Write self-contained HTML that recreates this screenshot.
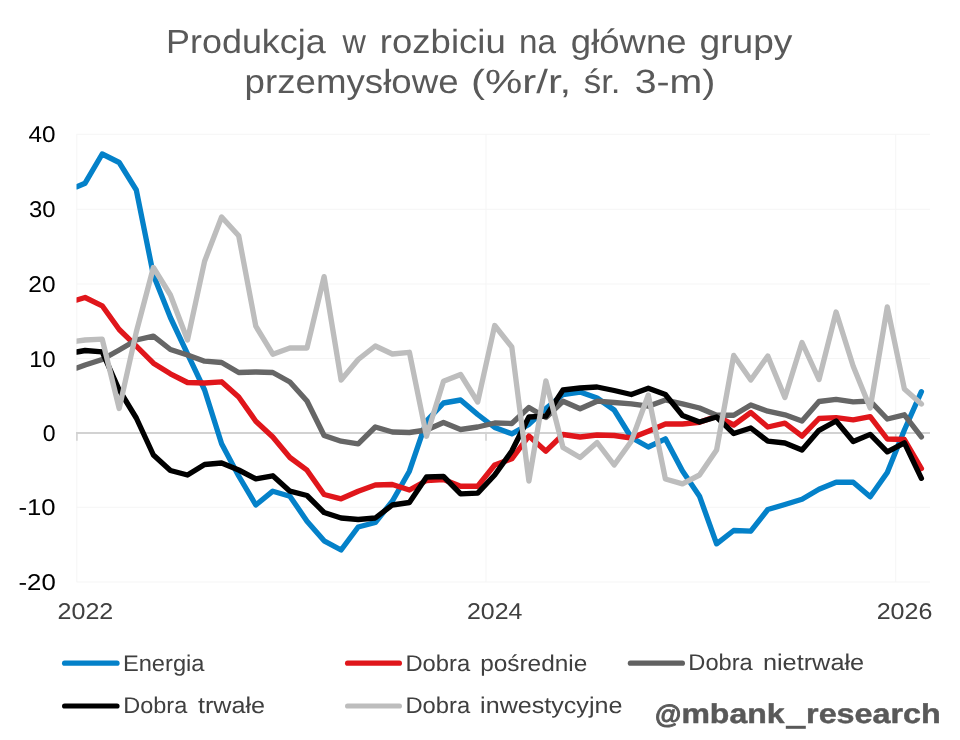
<!DOCTYPE html>
<html lang="pl"><head><meta charset="utf-8"><title>Produkcja w rozbiciu na główne grupy przemysłowe</title>
<style>html,body{margin:0;padding:0;background:#fff;}body{width:960px;height:740px;overflow:hidden;font-family:"Liberation Sans",sans-serif;}</style>
</head><body>
<svg width="960" height="740" viewBox="0 0 960 740" style="display:block;will-change:transform;text-rendering:geometricPrecision;font-family:'Liberation Sans',sans-serif">
<rect width="960" height="740" fill="#ffffff"/>
<line x1="76.5" x2="930" y1="134.25" y2="134.25" stroke="#f5f5f5" stroke-width="1"/>
<line x1="76.5" x2="930" y1="209.25" y2="209.25" stroke="#f5f5f5" stroke-width="1"/>
<line x1="76.5" x2="930" y1="284.0" y2="284.0" stroke="#f5f5f5" stroke-width="1"/>
<line x1="76.5" x2="930" y1="358.5" y2="358.5" stroke="#f5f5f5" stroke-width="1"/>
<line x1="76.5" x2="930" y1="507.25" y2="507.25" stroke="#f5f5f5" stroke-width="1"/>
<line x1="76.5" x2="930" y1="582.0" y2="582.0" stroke="#f5f5f5" stroke-width="1"/>
<line x1="76.8" x2="76.8" y1="134.25" y2="582" stroke="#f5f5f5" stroke-width="1"/>
<line x1="486.0" x2="486.0" y1="134.25" y2="582" stroke="#f5f5f5" stroke-width="1"/>
<line x1="895.7" x2="895.7" y1="134.25" y2="582" stroke="#f5f5f5" stroke-width="1"/>
<line x1="76" x2="930" y1="433" y2="433" stroke="#d2d2d2" stroke-width="1.9"/>
<line x1="76.9" x2="76.9" y1="433" y2="440.7" stroke="#d2d2d2" stroke-width="1.6"/>
<line x1="486.0" x2="486.0" y1="433" y2="440.7" stroke="#d2d2d2" stroke-width="1.6"/>
<line x1="895.7" x2="895.7" y1="433" y2="440.7" stroke="#d2d2d2" stroke-width="1.6"/>
<clipPath id="c"><rect x="76.5" y="120" width="860" height="480"/></clipPath>
<path d="M76.8,186.8 L85.1,183.2 L102.2,154.0 L119.2,162.5 L136.3,190.0 L153.4,275.0 L170.4,317.5 L187.5,353.8 L204.6,390.0 L221.6,443.8 L238.7,476.0 L255.8,505.0 L272.8,491.2 L289.9,496.2 L307.0,521.2 L324.1,540.8 L341.1,550.0 L358.2,527.0 L375.3,522.5 L392.3,501.2 L409.4,471.2 L426.5,421.2 L443.5,403.0 L460.6,400.0 L477.7,414.5 L494.7,427.5 L511.8,433.8 L528.9,424.3 L545.9,408.5 L563.0,394.5 L580.1,392.0 L597.1,398.0 L614.2,410.0 L631.3,437.5 L648.3,447.0 L665.4,438.8 L682.5,471.0 L699.5,496.2 L716.6,543.8 L733.7,530.5 L750.8,531.2 L767.8,509.5 L784.9,504.5 L802.0,499.2 L819.0,489.3 L836.1,482.2 L853.2,482.2 L870.2,496.8 L887.3,472.5 L904.4,430.0 L921.4,391.7" fill="none" stroke="#0481c9" stroke-width="5.35" stroke-linejoin="round" stroke-linecap="round" clip-path="url(#c)"/>
<path d="M76.8,300.0 L85.1,297.5 L102.2,305.8 L119.2,329.5 L136.3,346.2 L153.4,363.2 L170.4,373.8 L187.5,382.5 L204.6,383.0 L221.6,381.8 L238.7,397.0 L255.8,421.2 L272.8,437.0 L289.9,457.5 L307.0,470.2 L324.1,494.5 L341.1,498.8 L358.2,491.2 L375.3,485.0 L392.3,484.5 L409.4,490.0 L426.5,480.5 L443.5,479.5 L460.6,486.2 L477.7,486.2 L494.7,465.0 L511.8,458.8 L528.9,436.0 L545.9,451.2 L563.0,434.5 L580.1,437.0 L597.1,435.0 L614.2,435.5 L631.3,438.0 L648.3,431.2 L665.4,424.0 L682.5,424.0 L699.5,422.3 L716.6,416.2 L733.7,425.0 L750.8,412.5 L767.8,427.0 L784.9,423.2 L802.0,436.2 L819.0,418.5 L836.1,417.7 L853.2,419.8 L870.2,416.6 L887.3,439.0 L904.4,439.5 L921.4,468.5" fill="none" stroke="#e0161b" stroke-width="5.35" stroke-linejoin="round" stroke-linecap="round" clip-path="url(#c)"/>
<path d="M76.8,368.0 L85.1,365.0 L102.2,359.5 L119.2,350.0 L136.3,340.0 L153.4,336.2 L170.4,349.5 L187.5,355.0 L204.6,361.2 L221.6,362.5 L238.7,372.5 L255.8,372.0 L272.8,372.5 L289.9,382.0 L307.0,401.0 L324.1,435.5 L341.1,441.2 L358.2,443.8 L375.3,427.0 L392.3,432.0 L409.4,432.5 L426.5,430.0 L443.5,422.5 L460.6,429.5 L477.7,427.0 L494.7,423.0 L511.8,423.5 L528.9,407.5 L545.9,417.5 L563.0,401.2 L580.1,408.8 L597.1,401.2 L614.2,402.5 L631.3,403.8 L648.3,406.2 L665.4,400.0 L682.5,403.8 L699.5,408.0 L716.6,415.2 L733.7,415.2 L750.8,405.0 L767.8,411.2 L784.9,414.8 L802.0,421.0 L819.0,401.5 L836.1,399.4 L853.2,401.8 L870.2,401.0 L887.3,419.0 L904.4,414.8 L921.4,436.8" fill="none" stroke="#666666" stroke-width="5.35" stroke-linejoin="round" stroke-linecap="round" clip-path="url(#c)"/>
<path d="M76.8,352.0 L85.1,350.5 L102.2,351.8 L119.2,390.0 L136.3,418.0 L153.4,455.0 L170.4,470.5 L187.5,475.0 L204.6,464.5 L221.6,463.0 L238.7,470.0 L255.8,478.8 L272.8,475.8 L289.9,491.2 L307.0,495.5 L324.1,512.5 L341.1,518.0 L358.2,519.5 L375.3,518.0 L392.3,505.0 L409.4,502.5 L426.5,477.0 L443.5,476.5 L460.6,493.8 L477.7,493.2 L494.7,475.0 L511.8,451.0 L528.9,417.0 L545.9,416.2 L563.0,390.0 L580.1,388.0 L597.1,387.0 L614.2,390.5 L631.3,394.5 L648.3,388.2 L665.4,394.5 L682.5,415.5 L699.5,422.0 L716.6,417.0 L733.7,433.5 L750.8,428.0 L767.8,441.2 L784.9,443.0 L802.0,450.0 L819.0,430.3 L836.1,421.0 L853.2,441.5 L870.2,434.4 L887.3,451.8 L904.4,442.8 L921.4,478.3" fill="none" stroke="#000000" stroke-width="5.35" stroke-linejoin="round" stroke-linecap="round" clip-path="url(#c)"/>
<path d="M76.8,341.2 L85.1,340.0 L102.2,339.2 L119.2,408.5 L136.3,332.0 L153.4,267.5 L170.4,295.0 L187.5,340.0 L204.6,261.2 L221.6,217.0 L238.7,235.8 L255.8,326.2 L272.8,354.2 L289.9,348.0 L307.0,348.0 L324.1,276.7 L341.1,380.0 L358.2,359.5 L375.3,346.0 L392.3,354.0 L409.4,352.3 L426.5,436.2 L443.5,381.2 L460.6,374.5 L477.7,402.0 L494.7,325.5 L511.8,347.0 L528.9,481.0 L545.9,381.0 L563.0,447.5 L580.1,457.5 L597.1,442.5 L614.2,465.0 L631.3,441.2 L648.3,395.0 L665.4,479.0 L682.5,483.8 L699.5,475.0 L716.6,450.0 L733.7,355.5 L750.8,380.0 L767.8,356.0 L784.9,397.5 L802.0,342.5 L819.0,379.5 L836.1,312.0 L853.2,366.2 L870.2,408.0 L887.3,307.0 L904.4,389.0 L921.4,404.0" fill="none" stroke="#bdbdbd" stroke-width="5.35" stroke-linejoin="round" stroke-linecap="round" clip-path="url(#c)"/>
<text transform="translate(165.98,53.40) scale(1.0726,1)" font-size="33.5" fill="#595959" font-weight="normal">Produkcja</text>
<text transform="translate(342.62,53.40) scale(0.9661,1)" font-size="33.5" fill="#595959" font-weight="normal">w</text>
<text transform="translate(379.81,53.40) scale(1.0907,1)" font-size="33.5" fill="#595959" font-weight="normal">rozbiciu</text>
<text transform="translate(519.01,53.40) scale(0.9921,1)" font-size="33.5" fill="#595959" font-weight="normal">na</text>
<text transform="translate(570.84,53.40) scale(1.0897,1)" font-size="33.5" fill="#595959" font-weight="normal">główne</text>
<text transform="translate(699.51,53.40) scale(1.1084,1)" font-size="33.5" fill="#595959" font-weight="normal">grupy</text>
<text transform="translate(244.60,93.40) scale(1.0949,1)" font-size="33.5" fill="#595959" font-weight="normal">przemysłowe</text>
<text transform="translate(471.09,93.40) scale(1.2509,1)" font-size="33.5" fill="#595959" font-weight="normal">(%r/r,</text>
<text transform="translate(583.70,93.40) scale(1.0424,1)" font-size="33.5" fill="#595959" font-weight="normal">śr.</text>
<text transform="translate(634.72,93.40) scale(1.1715,1)" font-size="33.5" fill="#595959" font-weight="normal">3-m)</text>
<text transform="translate(28.41,142.45) scale(1.0673,1)" font-size="22.8" fill="#000000" font-weight="normal">40</text>
<text transform="translate(28.88,217.45) scale(1.0481,1)" font-size="22.8" fill="#000000" font-weight="normal">30</text>
<text transform="translate(28.28,292.20) scale(1.0728,1)" font-size="22.8" fill="#000000" font-weight="normal">20</text>
<text transform="translate(29.24,366.70) scale(1.0375,1)" font-size="22.8" fill="#000000" font-weight="normal">10</text>
<text transform="translate(42.71,441.20) scale(1.0115,1)" font-size="22.8" fill="#000000" font-weight="normal">0</text>
<text transform="translate(18.47,515.45) scale(1.1276,1)" font-size="22.8" fill="#000000" font-weight="normal">-10</text>
<text transform="translate(18.47,590.20) scale(1.1308,1)" font-size="22.8" fill="#000000" font-weight="normal">-20</text>
<text transform="translate(57.50,619.40) scale(1.0993,1)" font-size="22.8" fill="#404040" font-weight="normal">2022</text>
<text transform="translate(466.95,619.40) scale(1.0942,1)" font-size="22.8" fill="#404040" font-weight="normal">2024</text>
<text transform="translate(876.65,619.40) scale(1.0993,1)" font-size="22.8" fill="#404040" font-weight="normal">2026</text>
<text transform="translate(122.91,670.60) scale(1.0430,1)" font-size="22.7" fill="#404040" font-weight="normal">Energia</text>
<text transform="translate(405.45,670.60) scale(1.0475,1)" font-size="22.7" fill="#404040" font-weight="normal">Dobra</text>
<text transform="translate(480.13,670.60) scale(1.0757,1)" font-size="22.7" fill="#404040" font-weight="normal">pośrednie</text>
<text transform="translate(688.31,670.40) scale(1.0433,1)" font-size="22.7" fill="#404040" font-weight="normal">Dobra</text>
<text transform="translate(762.88,670.40) scale(1.1155,1)" font-size="22.7" fill="#404040" font-weight="normal">nietrwałe</text>
<text transform="translate(123.22,713.30) scale(1.0366,1)" font-size="22.7" fill="#404040" font-weight="normal">Dobra</text>
<text transform="translate(197.95,713.30) scale(1.1092,1)" font-size="22.7" fill="#404040" font-weight="normal">trwałe</text>
<text transform="translate(405.45,713.30) scale(1.0475,1)" font-size="22.7" fill="#404040" font-weight="normal">Dobra</text>
<text transform="translate(480.09,713.30) scale(1.1067,1)" font-size="22.7" fill="#404040" font-weight="normal">inwestycyjne</text>
<text transform="translate(654.96,722.80) scale(1.0345,1)" font-size="26" fill="#595959" font-weight="bold" stroke="#595959" stroke-width="0.9" stroke-linejoin="round">@</text>
<text transform="translate(681.38,723.30) scale(1.1685,1)" font-size="27.4" fill="#595959" font-weight="bold" stroke="#595959" stroke-width="0.45" stroke-linejoin="round">mbank</text>
<text transform="translate(806.06,723.30) scale(1.1799,1)" font-size="27.4" fill="#595959" font-weight="bold" stroke="#595959" stroke-width="0.45" stroke-linejoin="round">research</text>
<rect x="785.8" y="725.8" width="20" height="3" fill="#595959"/>
<line x1="64.6" x2="117.0" y1="663.2" y2="663.2" stroke="#0481c9" stroke-width="5.2" stroke-linecap="round"/>
<line x1="347.6" x2="399.4" y1="663.2" y2="663.2" stroke="#e0161b" stroke-width="5.2" stroke-linecap="round"/>
<line x1="630.4" x2="682.4" y1="663.2" y2="663.2" stroke="#616161" stroke-width="5.2" stroke-linecap="round"/>
<line x1="64.6" x2="117.0" y1="706.0" y2="706.0" stroke="#000000" stroke-width="5.2" stroke-linecap="round"/>
<line x1="347.6" x2="399.4" y1="706.0" y2="706.0" stroke="#bdbdbd" stroke-width="5.2" stroke-linecap="round"/>
</svg>
</body></html>
